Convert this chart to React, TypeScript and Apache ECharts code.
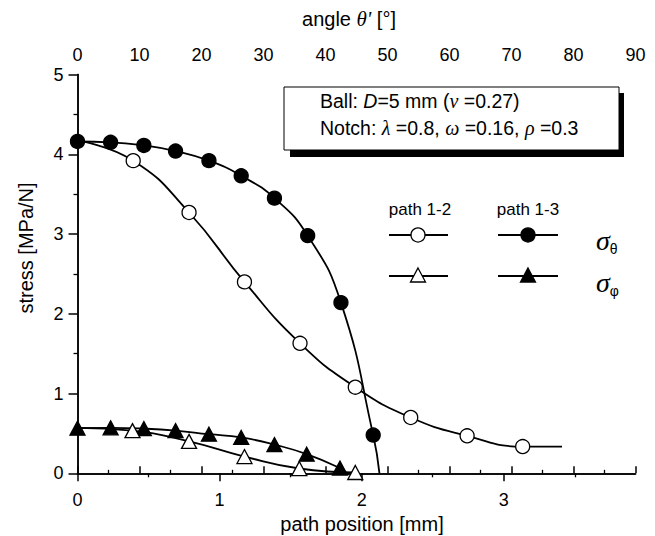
import React, { useEffect, useRef } from "react";
import * as echarts from "echarts";

// path position (mm) corresponding to 90° on a D=5 mm ball: 2.5 * PI / 2
const xMax = 3.927;
const angleMax = 90;
const yMax = 5;

// path 1-2, sigma_theta (open circles)
const openCircleX = [0.392, 0.785, 1.175, 1.566, 1.955, 2.345, 2.742, 3.133];
const openCircleY = [3.92, 3.27, 2.4, 1.63, 1.08, 0.7, 0.47, 0.335];
const openCircleStart = [0, 4.17];
const openCircleEnd = [3.41, 0.335];

// path 1-3, sigma_theta (filled circles)
const filledCircleX = [0, 0.233, 0.467, 0.69, 0.925, 1.152, 1.386, 1.62, 1.854, 2.081];
const filledCircleY = [4.16, 4.15, 4.11, 4.04, 3.92, 3.73, 3.45, 2.98, 2.14, 0.48];
const filledCircleEnd = [2.125, 0];

// path 1-2, sigma_phi (open triangles)
const openTriX = [0.387, 0.785, 1.175, 1.561, 1.955];
const openTriY = [0.535, 0.4, 0.21, 0.06, 0.01];
const openTriStart = [0, 0.57];

// path 1-3, sigma_phi (filled triangles)
const filledTriX = [0, 0.233, 0.467, 0.69, 0.925, 1.152, 1.386, 1.613, 1.847];
const filledTriY = [0.566, 0.57, 0.56, 0.535, 0.49, 0.45, 0.36, 0.24, 0.065];
const filledTriEnd = [1.895, 0];

const bottomMajor = [0, 1, 2, 3];
const bottomMinor = [0.5, 1.5, 2.5, 3.5];

const FONT = "'Liberation Sans', Arial, Helvetica, sans-serif";
const SERIF = "'Liberation Serif', 'DejaVu Serif', serif";

const zip = (xs: number[], ys: number[]) => xs.map((x, i) => [x, ys[i]]);

export default function App() {
  const ref = useRef<HTMLDivElement>(null);
  useEffect(() => {
    if (!ref.current) return;
    const chart = echarts.init(ref.current, null, { renderer: "svg" });
    const black = "#000";
    const lineW = 1.8;
    const curve = (data: number[][]) => ({
      type: "line",
      data,
      xAxisIndex: 0,
      yAxisIndex: 0,
      symbol: "none",
      smooth: 0.5,
      lineStyle: { color: black, width: lineW },
      z: 2,
      silent: true,
    });
    const markers = (data: number[][], symbol: string, filled: boolean) => ({
      type: "scatter",
      data,
      xAxisIndex: 0,
      yAxisIndex: 0,
      symbol,
      symbolSize: symbol === "triangle" ? [15, 14] : 14,
      itemStyle: {
        color: filled ? black : "#fff",
        borderColor: black,
        borderWidth: 1.3,
        opacity: 1,
      },
      z: 3,
      silent: true,
    });

    const axisLine = { show: true, lineStyle: { color: black, width: 1.5 } };

    const legendY1 = 235;
    const legendY2 = 276;
    const legendLine = (x1: number, x2: number, y: number) => ({
      type: "line",
      shape: { x1, y1: y, x2, y2: y },
      style: { stroke: black, lineWidth: lineW },
      z: 10,
    });
    const legendCircle = (cx: number, cy: number, filled: boolean) => ({
      type: "circle",
      shape: { cx, cy, r: 7 },
      style: { fill: filled ? black : "#fff", stroke: black, lineWidth: 1.3 },
      z: 11,
    });
    const legendTri = (cx: number, cy: number, filled: boolean) => ({
      type: "polygon",
      shape: { points: [[cx, cy - 7], [cx + 7.5, cy + 7], [cx - 7.5, cy + 7]] },
      style: { fill: filled ? black : "#fff", stroke: black, lineWidth: 1.3 },
      z: 11,
    });

    const option: any = {
      animation: false,
      backgroundColor: "#fff",
      grid: { left: 77.5, right: 19.5, top: 74.5, bottom: 62.7, containLabel: false },
      xAxis: [
        {
          type: "value",
          position: "bottom",
          min: 0,
          max: xMax,
          splitLine: { show: false },
          axisLine,
          axisTick: {
            show: true,
            customValues: bottomMajor,
            length: 8,
            inside: false,
            lineStyle: { color: black, width: 1.5 },
          },
          axisLabel: {
            customValues: bottomMajor,
            margin: 18,
            fontSize: 18,
            color: black,
            fontFamily: FONT,
          },
        },
        {
          type: "value",
          position: "top",
          min: 0,
          max: angleMax,
          interval: 10,
          splitLine: { show: false },
          axisLine,
          axisTick: { show: true, length: 7, lineStyle: { color: black, width: 1.5 } },
          minorTick: { show: true, splitNumber: 2, length: 3.5, lineStyle: { color: black, width: 1.3 } },
          axisLabel: { margin: 11, fontSize: 18, color: black, fontFamily: FONT },
        },
        {
          type: "value",
          position: "bottom",
          min: 0,
          max: xMax,
          splitLine: { show: false },
          axisLine: { show: false },
          axisTick: {
            show: true,
            customValues: bottomMinor,
            length: 4,
            lineStyle: { color: black, width: 1.3 },
          },
          axisLabel: { show: false },
        },
      ],
      yAxis: [
        {
          type: "value",
          position: "left",
          min: 0,
          max: yMax,
          interval: 1,
          splitLine: { show: false },
          axisLine,
          axisTick: { show: true, length: 9, lineStyle: { color: black, width: 1.5 } },
          minorTick: { show: true, splitNumber: 2, length: 4, lineStyle: { color: black, width: 1.3 } },
          axisLabel: { margin: 14, fontSize: 18, color: black, fontFamily: FONT },
        },
        {
          type: "value",
          position: "right",
          min: 0,
          max: yMax,
          splitLine: { show: false },
          axisLine,
          axisTick: { show: false },
          axisLabel: { show: false },
        },
      ],
      series: [
        curve([openCircleStart, ...zip(openCircleX, openCircleY), openCircleEnd]),
        curve([...zip(filledCircleX, filledCircleY), filledCircleEnd]),
        curve([openTriStart, ...zip(openTriX, openTriY)]),
        curve([...zip(filledTriX, filledTriY), filledTriEnd]),
        markers(zip(filledCircleX, filledCircleY), "circle", true),
        markers(zip(openCircleX, openCircleY), "circle", false),
        markers(zip(filledTriX, filledTriY), "triangle", true),
        markers(zip(openTriX, openTriY), "triangle", false),
      ],
      graphic: [
        {
          type: "text",
          x: 349,
          y: 19,
          style: {
            text: "{a|angle }{b|θ'}{a| [°]}",
            align: "center",
            verticalAlign: "middle",
            rich: {
              a: { fontSize: 20, fontFamily: FONT, fill: black },
              b: { fontSize: 21, fontFamily: SERIF, fontStyle: "italic", fill: black },
            },
          },
        },
        {
          type: "text",
          x: 362,
          y: 524,
          style: {
            text: "path position [mm]",
            align: "center",
            verticalAlign: "middle",
            fontSize: 20,
            lineHeight: 20,
            fontFamily: FONT,
            fill: black,
          },
        },
        {
          type: "text",
          x: 26,
          y: 248,
          rotation: Math.PI / 2,
          style: {
            text: "stress [MPa/N]",
            align: "center",
            verticalAlign: "middle",
            fontSize: 20,
            fontFamily: FONT,
            fill: black,
          },
        },
        {
          type: "rect",
          shape: { x: 290, y: 93, width: 334, height: 64 },
          style: { fill: black },
          z: 8,
        },
        {
          type: "rect",
          shape: { x: 284, y: 87, width: 335, height: 63 },
          style: { fill: "#fff", stroke: black, lineWidth: 1 },
          z: 9,
        },
        {
          type: "text",
          x: 320,
          y: 101,
          z: 10,
          style: {
            text: "{a|Ball: }{i|D}{a|=5 mm (}{g|ν}{a| =0.27)}",
            verticalAlign: "middle",
            rich: {
              a: { fontSize: 19.5, fontFamily: FONT, fill: black },
              i: { fontSize: 19.5, fontFamily: FONT, fontStyle: "italic", fill: black },
              g: { fontSize: 20, fontFamily: SERIF, fontStyle: "italic", fill: black },
            },
          },
        },
        {
          type: "text",
          x: 320,
          y: 128,
          z: 10,
          style: {
            text: "{a|Notch: }{g|λ}{a| =0.8, }{g|ω}{a| =0.16, }{g|ρ}{a| =0.3}",
            verticalAlign: "middle",
            rich: {
              a: { fontSize: 19.5, fontFamily: FONT, fill: black },
              g: { fontSize: 20, fontFamily: SERIF, fontStyle: "italic", fill: black },
            },
          },
        },
        {
          type: "text",
          x: 420,
          y: 209,
          z: 10,
          style: { text: "path 1-2", align: "center", verticalAlign: "middle", fontSize: 17, fontFamily: FONT, fill: black },
        },
        {
          type: "text",
          x: 528,
          y: 209,
          z: 10,
          style: { text: "path 1-3", align: "center", verticalAlign: "middle", fontSize: 17, fontFamily: FONT, fill: black },
        },
        legendLine(389, 448, legendY1),
        legendLine(498, 558, legendY1),
        legendLine(389, 448, legendY2),
        legendLine(498, 558, legendY2),
        legendCircle(418, legendY1, false),
        legendCircle(528, legendY1, true),
        legendTri(418, legendY2 - 1, false),
        legendTri(528, legendY2 - 1, true),
        {
          type: "text",
          x: 596,
          y: 240,
          z: 10,
          style: {
            text: "{s|σ}{t|θ}",
            verticalAlign: "middle",
            rich: {
              s: { fontSize: 28, fontFamily: SERIF, fontStyle: "italic", fill: black },
              t: { fontSize: 14, fontFamily: FONT, fill: black, padding: [18, 0, 0, 0] },
            },
          },
        },
        {
          type: "text",
          x: 596,
          y: 282,
          z: 10,
          style: {
            text: "{s|σ}{t|φ}",
            verticalAlign: "middle",
            rich: {
              s: { fontSize: 28, fontFamily: SERIF, fontStyle: "italic", fill: black },
              t: { fontSize: 14, fontFamily: FONT, fill: black, padding: [18, 0, 0, 0] },
            },
          },
        },
      ],
    };
    chart.setOption(option);
    return () => chart.dispose();
  }, []);
  return (
    <div
      ref={ref}
      style={{ position: "absolute", left: 0, top: 0, width: 655, height: 536, background: "#fff" }}
    />
  );
}
